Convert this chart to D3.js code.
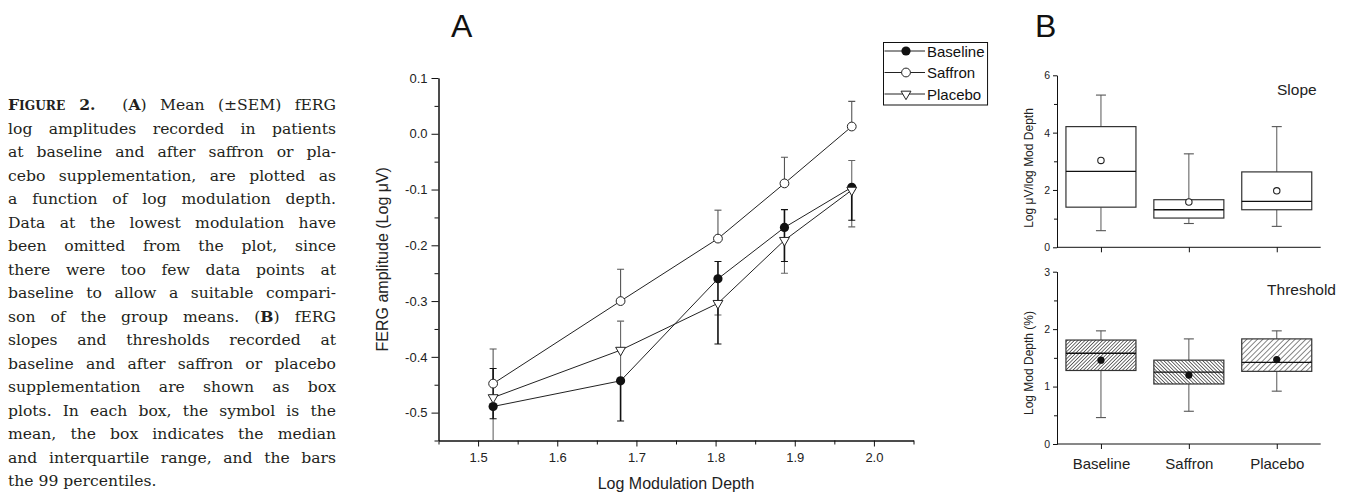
<!DOCTYPE html>
<html>
<head>
<meta charset="utf-8">
<script src="https://cdn.jsdelivr.net/npm/d3@7"></script>
<style>
  html, body { margin: 0; padding: 0; background: #fff; }
  body { width: 1352px; height: 495px; overflow: hidden; }
  svg { display: block; }
</style>
</head>
<body>
<script>
// ---------------- DATA ----------------
// Panel A: log modulation depth (x) and mean fERG log amplitudes
const modDepth      = [1.519, 1.680, 1.803, 1.887, 1.972];
const baselineMean  = [-0.489, -0.443, -0.260, -0.168, -0.096];
const saffronMean   = [-0.448, -0.300, -0.188, -0.089, 0.013];
const placeboMean   = [-0.473, -0.388, -0.304, -0.191, -0.101];
// error-bar ends as drawn (null = not drawn)
const baselineErrHi = [-0.421, null, -0.229, -0.136, null];
const baselineErrLo = [-0.511, -0.515, -0.377, -0.229, -0.155];
const saffronErrHi  = [-0.386, -0.243, -0.137, -0.042, 0.058];
const saffronErrLo  = [null, null, null, null, null];
const placeboErrHi  = [null, -0.336, null, null, -0.048];
const placeboErrLo  = [-0.57, -0.440, -0.325, -0.250, -0.167];

const xTicksA      = [1.5, 1.6, 1.7, 1.8, 1.9, 2.0];
const xTickLabelsA = ["1.5", "1.6", "1.7", "1.8", "1.9", "2.0"];
const xMinorA      = [1.45, 1.55, 1.65, 1.75, 1.85, 1.95, 2.05];
const yTicksA      = [-0.5, -0.4, -0.3, -0.2, -0.1, 0.0, 0.1];
const yTickLabelsA = ["-0.5", "-0.4", "-0.3", "-0.2", "-0.1", "0.0", "0.1"];
const yMinorA      = [-0.55, -0.45, -0.35, -0.25, -0.15, -0.05, 0.05];
const seriesNames  = ["Baseline", "Saffron", "Placebo"];

// Panel B: box plots
const groups        = ["Baseline", "Saffron", "Placebo"];
const slopeLow      = [0.58, 0.83, 0.73];
const slopeQ1       = [1.40, 1.02, 1.31];
const slopeMedian   = [2.65, 1.31, 1.60];
const slopeQ3       = [4.21, 1.66, 2.63];
const slopeHigh     = [5.31, 3.26, 4.21];
const slopeMean     = [3.03, 1.58, 1.97];
const threshLow     = [0.46, 0.57, 0.92];
const threshQ1      = [1.28, 1.045, 1.265];
const threshMedian  = [1.58, 1.25, 1.42];
const threshQ3      = [1.81, 1.46, 1.83];
const threshHigh    = [1.97, 1.83, 1.97];
const threshMean    = [1.46, 1.20, 1.47];
const slopeTicks    = [0, 2, 4, 6];
const slopeMinor    = [1, 3, 5];
const threshTicks   = [0, 1, 2, 3];
const threshMinor   = [0.5, 1.5, 2.5];

// Caption lines: [text, bold, smallcaps]
const captionLines = [
  [["F",1,0],["IGURE",1,1],[" 2.",1,0],["  (",0,0],["A",1,0],[") Mean (\u00B1SEM) fERG",0,0]],
  [["log amplitudes recorded in patients",0,0]],
  [["at baseline and after saffron or pla-",0,0]],
  [["cebo supplementation, are plotted as",0,0]],
  [["a function of log modulation depth.",0,0]],
  [["Data at the lowest modulation have",0,0]],
  [["been omitted from the plot, since",0,0]],
  [["there were too few data points at",0,0]],
  [["baseline to allow a suitable compari-",0,0]],
  [["son of the group means. (",0,0],["B",1,0],[") fERG",0,0]],
  [["slopes and thresholds recorded at",0,0]],
  [["baseline and after saffron or placebo",0,0]],
  [["supplementation are shown as box",0,0]],
  [["plots. In each box, the symbol is the",0,0]],
  [["mean, the box indicates the median",0,0]],
  [["and interquartile range, and the bars",0,0]],
  [["the 99 percentiles.",0,0]]
];

// ---------------- DRAW ----------------
const W = 1352, H = 495;
const FONT = '"Liberation Sans", Arial, Helvetica, sans-serif';
const SERIF = '"DejaVu Serif", "Liberation Serif", serif';
const svg = d3.select("body").append("svg").attr("width", W).attr("height", H)
  .style("font-family", FONT);

// ---- caption ----
const capX = 8, capW = 328, capY0 = 110, capLH = 23.5;
const capG = svg.append("g").style("font-family", SERIF).style("font-size", "15.6px").attr("fill", "#231f20");
captionLines.forEach((segs, i) => {
  const t = capG.append("text").attr("x", capX).attr("y", capY0 + i * capLH).attr("xml:space", "preserve");
  segs.forEach(s => {
    const ts = t.append("tspan").text(s[0]);
    if (s[1]) ts.attr("font-weight", "bold");
    if (s[2]) ts.style("font-size", "12.2px");
  });
  if (i < captionLines.length - 1) {
    const len = t.node().getComputedTextLength();
    const txt = segs.map(s => s[0]).join("");
    const n = (txt.match(/ /g) || []).length;
    if (n > 0) t.style("word-spacing", ((capW - len) / n) + "px");
  }
});

// ---- Panel A ----
const xA = d3.scaleLinear().domain([1.45, 2.05]).range([438.5, 913.5]);
const yA = d3.scaleLinear().domain([-0.55, 0.1]).range([440.5, 78]);
const gA = svg.append("g");

gA.append("text").text("A").attr("x", 451).attr("y", 37)
  .style("font-size", "32px").attr("fill", "#111");

function styleAxis(g, fs) {
  g.selectAll("path.domain").attr("stroke", "#111").attr("stroke-width", 1);
  g.selectAll(".tick line").attr("stroke", "#111").attr("stroke-width", 1);
  g.selectAll(".tick text").attr("fill", "#222").style("font-size", fs).style("font-family", FONT);
}

const xAxA = gA.append("g").attr("transform", `translate(0,${yA(-0.55)})`)
  .call(d3.axisBottom(xA).tickValues(xTicksA).tickFormat((d, i) => xTickLabelsA[i]).tickSize(6).tickSizeOuter(0).tickPadding(6));
styleAxis(xAxA, "13px");
const xAxAm = gA.append("g").attr("transform", `translate(0,${yA(-0.55)})`)
  .call(d3.axisBottom(xA).tickValues(xMinorA).tickFormat("").tickSize(4).tickSizeOuter(0));
styleAxis(xAxAm, "13px");

const yAxA = gA.append("g").attr("transform", `translate(${xA(1.45)},0)`)
  .call(d3.axisLeft(yA).tickValues(yTicksA).tickFormat((d, i) => yTickLabelsA[i]).tickSize(7).tickSizeOuter(0).tickPadding(4));
styleAxis(yAxA, "13px");
const yAxAm = gA.append("g").attr("transform", `translate(${xA(1.45)},0)`)
  .call(d3.axisLeft(yA).tickValues(yMinorA).tickFormat("").tickSize(4).tickSizeOuter(0));
styleAxis(yAxAm, "13px");

gA.append("text").text("Log Modulation Depth")
  .attr("x", (xA(1.45) + xA(2.05)) / 2).attr("y", 489)
  .attr("text-anchor", "middle").style("font-size", "16px").attr("fill", "#222");
gA.append("text").text("FERG amplitude (Log \u03BCV)")
  .attr("transform", `translate(388,${(yA(-0.55) + yA(0.1)) / 2}) rotate(-90)`)
  .attr("text-anchor", "middle").style("font-size", "16px").attr("fill", "#222");

// clip
svg.append("defs").append("clipPath").attr("id", "clipA")
  .append("rect").attr("x", xA(1.45)).attr("y", 0).attr("width", xA(2.05) - xA(1.45)).attr("height", yA(-0.55));

const series = [
  { name: "Baseline", mean: baselineMean, hi: baselineErrHi, lo: baselineErrLo, ecol: "#111", ew: 1.6 },
  { name: "Saffron",  mean: saffronMean,  hi: saffronErrHi,  lo: saffronErrLo,  ecol: "#555", ew: 1.1 },
  { name: "Placebo",  mean: placeboMean,  hi: placeboErrHi,  lo: placeboErrLo,  ecol: "#666", ew: 1.1 }
];

// error bars (gray first, black on top)
const eG = gA.append("g").attr("clip-path", "url(#clipA)");
[series[2], series[1], series[0]].forEach(s => {
  modDepth.forEach((x, i) => {
    [s.hi[i], s.lo[i]].forEach(e => {
      if (e === null) return;
      eG.append("line").attr("x1", xA(x)).attr("x2", xA(x))
        .attr("y1", yA(s.mean[i])).attr("y2", yA(e))
        .attr("stroke", s.ecol).attr("stroke-width", s.ew);
      eG.append("line").attr("x1", xA(x) - 3.5).attr("x2", xA(x) + 3.5)
        .attr("y1", yA(e)).attr("y2", yA(e))
        .attr("stroke", s.ecol).attr("stroke-width", 1.1);
    });
  });
});

const lineGen = d3.line().x((d, i) => xA(modDepth[i])).y(d => yA(d));
series.forEach(s => {
  gA.append("path").datum(s.mean).attr("d", lineGen)
    .attr("fill", "none").attr("stroke", "#222").attr("stroke-width", 1);
});

function drawMarker(g, name, cx, cy) {
  if (name === "Baseline") {
    g.append("circle").attr("cx", cx).attr("cy", cy).attr("r", 4.6).attr("fill", "#111");
  } else if (name === "Saffron") {
    g.append("circle").attr("cx", cx).attr("cy", cy).attr("r", 4.4)
      .attr("fill", "#fff").attr("stroke", "#222").attr("stroke-width", 1);
  } else {
    g.append("path").attr("d", d3.symbol().type(d3.symbolTriangle).size(42)())
      .attr("transform", `translate(${cx},${cy}) rotate(180)`)
      .attr("fill", "#fff").attr("stroke", "#222").attr("stroke-width", 1);
  }
}
series.forEach(s => {
  s.mean.forEach((v, i) => drawMarker(gA, s.name, xA(modDepth[i]), yA(v)));
});

// legend
const legG = gA.append("g");
const legX = 883.5, legY = 42.5, rowY = [51, 72.5, 94];
const legTexts = [];
seriesNames.forEach((n, i) => {
  legG.append("line").attr("x1", legX + 1).attr("x2", 925).attr("y1", rowY[i]).attr("y2", rowY[i])
    .attr("stroke", "#222").attr("stroke-width", 1);
  drawMarker(legG, n, 906, rowY[i]);
  legTexts.push(legG.append("text").text(n).attr("x", 927).attr("y", rowY[i] + 5.5)
    .style("font-size", "15px").attr("fill", "#111"));
});
const legRight = d3.max(legTexts, t => 927 + t.node().getComputedTextLength()) + 3;
legG.insert("rect", ":first-child").attr("x", legX).attr("y", legY)
  .attr("width", legRight - legX).attr("height", 62.5)
  .attr("fill", "#fff").attr("stroke", "#111").attr("stroke-width", 1);

// ---- Panel B ----
const defs = svg.select("defs");
function hatch(id, spacing, angle, sw, col) {
  const p = defs.append("pattern").attr("id", id).attr("patternUnits", "userSpaceOnUse")
    .attr("width", spacing).attr("height", spacing).attr("patternTransform", `rotate(${angle})`);
  p.append("rect").attr("width", spacing).attr("height", spacing).attr("fill", "#fff");
  p.append("line").attr("x1", 0).attr("x2", 0).attr("y1", 0).attr("y2", spacing)
    .attr("stroke", col).attr("stroke-width", sw);
}
hatch("hBase", 2.5, 45, 1.3, "#222");
hatch("hSaff", 2.5, -45, 1.3, "#222");
hatch("hPlac", 3.8, 45, 1.1, "#222");
const fills = ["url(#hBase)", "url(#hSaff)", "url(#hPlac)"];

const xB = d3.scalePoint().domain(groups).range([1057, 1320.7]).padding(0.5);
const yS = d3.scaleLinear().domain([0, 6]).range([247.3, 75.3]);
const yT = d3.scaleLinear().domain([0, 3]).range([444, 271.7]);
const boxW = 70;

svg.append("text").text("B").attr("x", 1035).attr("y", 37)
  .style("font-size", "32px").attr("fill", "#111");

function panelB(y, ticks, minor, low, q1, med, q3, high, mean, filled, title, ytitle, titleX, titleY, ytitleY, showLabels) {
  const g = svg.append("g");
  const x0 = 1057, x1 = 1320.7;
  const xa = g.append("g").attr("transform", `translate(0,${y(0)})`)
    .call(d3.axisBottom(xB).tickSize(5).tickSizeOuter(0).tickPadding(9)
      .tickFormat(showLabels ? (d => d) : ""));
  xa.select("path.domain").attr("d", `M${x0},0H${x1}`);
  styleAxis(xa, "15px");
  const ya = g.append("g").attr("transform", `translate(${x0},0)`)
    .call(d3.axisLeft(y).tickValues(ticks).tickFormat(d3.format("d")).tickSize(4).tickSizeOuter(0).tickPadding(3));
  styleAxis(ya, "10.5px");
  const yam = g.append("g").attr("transform", `translate(${x0},0)`)
    .call(d3.axisLeft(y).tickValues(minor).tickFormat("").tickSize(3).tickSizeOuter(0));
  styleAxis(yam, "10.5px");

  groups.forEach((gr, i) => {
    const cx = xB(gr);
    [[q3[i], high[i]], [q1[i], low[i]]].forEach(([a, b]) => {
      g.append("line").attr("x1", cx).attr("x2", cx).attr("y1", y(a)).attr("y2", y(b))
        .attr("stroke", "#666").attr("stroke-width", 1.1);
      g.append("line").attr("x1", cx - 5).attr("x2", cx + 5).attr("y1", y(b)).attr("y2", y(b))
        .attr("stroke", "#555").attr("stroke-width", 1.1);
    });
    g.append("rect").attr("x", cx - boxW / 2).attr("y", y(q3[i]))
      .attr("width", boxW).attr("height", y(q1[i]) - y(q3[i]))
      .attr("fill", filled ? fills[i] : "#fff").attr("stroke", "#333").attr("stroke-width", 1.2);
    g.append("line").attr("x1", cx - boxW / 2).attr("x2", cx + boxW / 2)
      .attr("y1", y(med[i])).attr("y2", y(med[i])).attr("stroke", "#111").attr("stroke-width", 1.3);
    if (filled) {
      g.append("circle").attr("cx", cx).attr("cy", y(mean[i])).attr("r", 3.6).attr("fill", "#111");
    } else {
      g.append("circle").attr("cx", cx).attr("cy", y(mean[i])).attr("r", 3.2)
        .attr("fill", "#fff").attr("stroke", "#222").attr("stroke-width", 1.1);
    }
  });
  g.append("text").text(title).attr("x", titleX).attr("y", titleY).attr("text-anchor", "end")
    .style("font-size", "15.5px").attr("fill", "#222");
  g.append("text").text(ytitle)
    .attr("transform", `translate(1033,${ytitleY}) rotate(-90)`)
    .attr("text-anchor", "middle").style("font-size", "12px").attr("fill", "#222");
}

panelB(yS, slopeTicks, slopeMinor, slopeLow, slopeQ1, slopeMedian, slopeQ3, slopeHigh, slopeMean,
  false, "Slope", "Log \u03BCV/log Mod Depth", 1316.7, 95, 168, false);
panelB(yT, threshTicks, threshMinor, threshLow, threshQ1, threshMedian, threshQ3, threshHigh, threshMean,
  true, "Threshold", "Log Mod Depth (%)", 1336, 295, 363, true);
</script>
</body>
</html>
